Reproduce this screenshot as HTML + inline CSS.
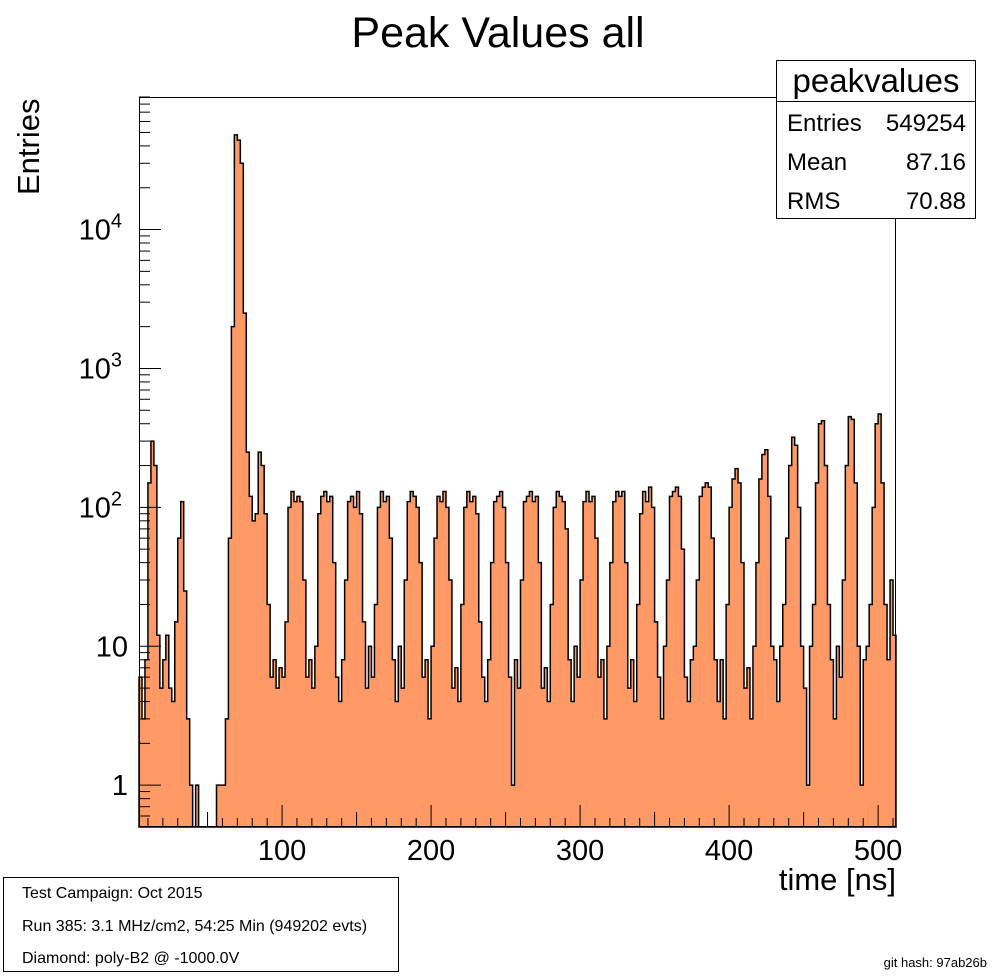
<!DOCTYPE html>
<html><head><meta charset="utf-8"><style>
body{margin:0;background:#fff;width:996px;height:974px;overflow:hidden;font-family:"Liberation Sans",sans-serif}
svg text{font-family:"Liberation Sans",sans-serif}
</style></head><body>
<svg id="c" width="996" height="974" xmlns="http://www.w3.org/2000/svg">
<text x="498" y="47" font-size="43" text-anchor="middle">Peak Values all</text>
<text transform="translate(39,195) rotate(-90)" font-size="31">Entries</text>
<text x="896" y="890" font-size="31" text-anchor="end">time [ns]</text>
<g id="plot"></g>
<g id="axes"></g>
<g>
<rect x="776.5" y="60.5" width="199" height="158" fill="#fff" stroke="#000"/>
<line x1="776" y1="101.5" x2="976" y2="101.5" stroke="#000"/>
<text x="876" y="92" font-size="33" text-anchor="middle">peakvalues</text>
<text x="787" y="131" font-size="24">Entries</text><text x="966" y="131" font-size="24" text-anchor="end">549254</text>
<text x="787" y="170" font-size="24">Mean</text><text x="966" y="170" font-size="24" text-anchor="end">87.16</text>
<text x="787" y="209" font-size="24">RMS</text><text x="966" y="209" font-size="24" text-anchor="end">70.88</text>
</g>
<g>
<rect x="3.5" y="877.5" width="395" height="94" fill="#fff" stroke="#000"/>
<text x="22" y="898" font-size="16">Test Campaign: Oct 2015</text>
<text x="22" y="931" font-size="16">Run 385: 3.1 MHz/cm2, 54:25 Min (949202 evts)</text>
<text x="22" y="963" font-size="16">Diamond: poly-B2 @ -1000.0V</text>
</g>
<text x="987" y="967" font-size="13" text-anchor="end">git hash: 97ab26b</text>
</svg>
<script>
const binStart = 4;
const binWidth = 2;
const counts = [
6,3,8,150,300,200,12,5,
8,12,5,4,15,60,110,25,3,1,
0,1,0,0,0,0,0,0,1,1,
1,3,60,2000,48000,44000,30000,2500,250,120,
80,90,250,200,90,20,6,8,5,7,
6,15,100,130,110,120,110,30,6,8,
5,10,90,120,130,110,120,40,6,4,
8,30,110,120,100,130,90,15,5,10,
6,20,100,130,110,120,60,8,4,10,
5,30,110,130,120,100,40,6,8,3,
10,60,120,110,130,100,30,5,7,4,
20,100,130,110,120,90,15,6,4,8,
40,110,120,130,100,
40,6,1,8,5,30,110,120,130,110,120,40,5,7,4,
20,100,130,120,110,70,8,4,10,6,
30,110,130,110,120,60,6,8,3,10,
40,110,130,120,130,40,5,8,4,20,
90,130,110,140,100,15,6,3,10,30,
120,130,140,120,50,6,4,8,10,30,
120,140,150,140,60,8,4,8,3,20,
100,160,190,150,40,5,7,3,10,40,
160,240,260,120,10,
8,4,10,20,60,200,320,280,100,10,
5,1,10,20,150,400,420,200,20,8,
3,10,6,30,200,450,430,150,10,1,
8,10,20,100,400,470,150,20,8,30,12
];
const xMin = 4, xMax = 512, yMin = 0.5, yMax = 90000;
const L = 139, R = 896, T = 97, B = 827;
const xs = v => L + (v - xMin) / (xMax - xMin) * (R - L);
const ys = v => { if (v <= 0) return B; const y = B - (Math.log10(v) - Math.log10(yMin)) / (Math.log10(yMax) - Math.log10(yMin)) * (B - T); return Math.max(T, Math.min(B, y)); };
const NS = 'http://www.w3.org/2000/svg';
const plot = document.getElementById('plot');
let d = 'M' + xs(binStart) + ',' + B;
counts.forEach((c, i) => {
  const x0 = xs(binStart + i * binWidth), x1 = xs(Math.min(xMax, binStart + (i + 1) * binWidth));
  const y = ys(c);
  d += ' L' + x0.toFixed(2) + ',' + y.toFixed(2) + ' L' + x1.toFixed(2) + ',' + y.toFixed(2);
});
d += ' L' + xs(Math.min(xMax, binStart + counts.length * binWidth)) + ',' + B + ' Z';
const p = document.createElementNS(NS, 'path');
p.setAttribute('d', d);
p.setAttribute('fill', '#ff9966');
p.setAttribute('stroke', '#000');
p.setAttribute('stroke-width', '1.5');


plot.appendChild(p);
const ax = document.getElementById('axes');
function line(x1, y1, x2, y2, name) {
  const l = document.createElementNS(NS, 'line');
  l.setAttribute('x1', x1); l.setAttribute('y1', y1); l.setAttribute('x2', x2); l.setAttribute('y2', y2);
  l.setAttribute('stroke', '#000'); l.setAttribute('stroke-width', '1');
  
  
  ax.appendChild(l);
}
function text(x, y, s, anchor, name, size) {
  const t = document.createElementNS(NS, 'text');
  t.setAttribute('x', x); t.setAttribute('y', y); t.setAttribute('font-size', size || 29);
  t.setAttribute('text-anchor', anchor);
  t.innerHTML = s;
  
  
  ax.appendChild(t);
  return t;
}
const fr = document.createElementNS(NS, 'rect');
fr.setAttribute('x', L + 0.5); fr.setAttribute('y', T + 0.5); fr.setAttribute('width', R - L - 1); fr.setAttribute('height', B - T - 1);
fr.setAttribute('fill', 'none'); fr.setAttribute('stroke', '#000');


ax.appendChild(fr);
for (let v = 10; v <= 510; v += 10) {
  const len = v % 100 === 0 ? 22 : (v % 50 === 0 ? 15 : 9);
  line(xs(v), B, xs(v), B - len, 'x-tick');
}
const xLabels = [100, 200, 300, 400, 500];
xLabels.forEach(v => text(xs(v), 860, String(v), 'middle', 'x-tick-label'));
for (let e = -1; e <= 4; e++) {
  for (let m = 1; m <= 9; m++) {
    const v = m * Math.pow(10, e);
    if (v < yMin || v > yMax) continue;
    line(L, ys(v), L + (m === 1 ? 22 : 11), ys(v), 'y-tick');
  }
}
const yLabels = ['1', '10', '10<tspan font-size="20" dy="-12">2</tspan>', '10<tspan font-size="20" dy="-12">3</tspan>', '10<tspan font-size="20" dy="-12">4</tspan>'];
const yVals = [1, 10, 100, 1000, 10000];
yVals.forEach((v, i) => text(i < 2 ? 128 : 122, ys(v) + 10, yLabels[i], 'end', 'y-tick-label'));
</script>
</body></html>
